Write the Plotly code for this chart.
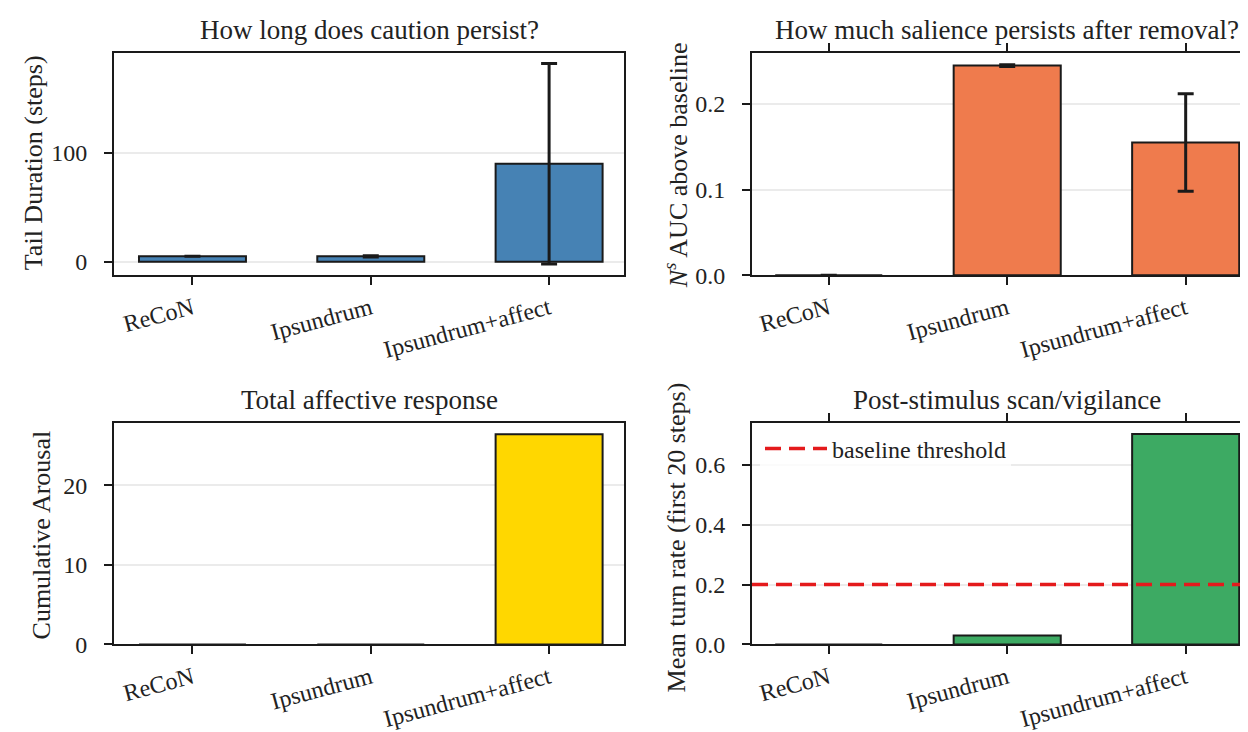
import plotly.graph_objects as go

# ---------------- data ----------------
models = ["ReCoN", "Ipsundrum", "Ipsundrum+affect"]

tail_mean = [5.0, 5.0, 90.0]
tail_err = [0.0, 0.6, 92.0]

auc_mean = [0.0, 0.245, 0.155]
auc_err = [0.0, 0.001, 0.057]

arousal = [0.0, 0.0, 26.4]

turn_rate = [0.0, 0.03, 0.703]
baseline_threshold = 0.2

titles = [
    "How long does caution persist?",
    "How much salience persists after removal?",
    "Total affective response",
    "Post-stimulus scan/vigilance",
]
ylabels = [
    "Tail Duration (steps)",
    "<i>N</i><sup><i>s</i></sup> AUC above baseline",
    "Cumulative Arousal",
    "Mean turn rate (first 20 steps)",
]

colors = ["#4682B4", "#EF7B4D", "#FFD700", "#3DAA63"]

# ---------------- layout geometry ----------------
W, H = 1248, 732
FONT = "Liberation Serif"
EDGE = "#1a1a1a"
TXT = "#222222"

def px_x(p):
    return p / W

def px_y(p):
    return 1 - p / H

x_dom_left = [px_x(106), px_x(616)]
x_dom_right = [px_x(744), 1.0]
y_dom_top = [px_y(272), px_y(46)]
y_dom_bot = [px_y(648), px_y(423)]

fig = go.Figure()

def add_bar(vals, errs, color, xa, ya):
    kw = {}
    if errs is not None:
        kw["error_y"] = dict(type="data", array=errs, visible=True,
                             color=EDGE, thickness=3, width=8)
    fig.add_trace(go.Bar(
        x=models, y=vals, width=0.6,
        marker=dict(color=color, line=dict(color=EDGE, width=2)),
        xaxis=xa, yaxis=ya, showlegend=False, **kw))

add_bar(tail_mean, tail_err, colors[0], "x", "y")
add_bar(auc_mean, auc_err, colors[1], "x2", "y2")
add_bar(arousal, None, colors[2], "x3", "y3")
add_bar(turn_rate, None, colors[3], "x4", "y4")

# legend entry for threshold line
fig.add_trace(go.Scatter(
    x=[None], y=[None], mode="lines", name="baseline threshold",
    line=dict(color="#E41A1C", width=3.5, dash="16px,8px"),
    xaxis="x4", yaxis="y4", showlegend=True))

fig.add_shape(type="line", xref="x4 domain", yref="y4",
              x0=0, x1=1, y0=baseline_threshold, y1=baseline_threshold,
              line=dict(color="#E41A1C", width=3.5, dash="16px,8px"))

tickfont = dict(family=FONT, size=24, color=TXT)

def xaxis_cfg(dom, anchor, rng, mirror):
    return dict(domain=dom, anchor=anchor, range=rng, type="category",
                showline=True, linecolor=EDGE, linewidth=2, mirror=mirror,
                ticks="outside", ticklen=8, tickwidth=2, tickcolor=EDGE,
                tickangle=-15, tickfont=tickfont, showgrid=False, zeroline=False)

def yaxis_cfg(dom, anchor, rng, dtick, tickformat, mirror):
    return dict(domain=dom, anchor=anchor, range=rng, dtick=dtick,
                tickformat=tickformat,
                showline=True, linecolor=EDGE, linewidth=2, mirror=mirror,
                ticks="outside", ticklen=8, tickwidth=2, tickcolor=EDGE,
                ticklabelstandoff=12,
                tickfont=tickfont, showgrid=True, gridcolor="#ebebeb",
                gridwidth=1.5, zeroline=False)

fig.update_layout(
    width=W, height=H,
    margin=dict(l=0, r=0, t=0, b=0),
    paper_bgcolor="white", plot_bgcolor="white",
    font=dict(family=FONT, size=24, color=TXT),
    xaxis=xaxis_cfg(x_dom_left, "y", [-0.44, 2.42], True),
    yaxis=yaxis_cfg(y_dom_top, "x", [-12.3, 191.5], 100, "d", True),
    xaxis2=xaxis_cfg(x_dom_right, "y2", [-0.43, 2.394], "allticks"),
    yaxis2=yaxis_cfg(y_dom_top, "x2", [0, 0.2595], 0.1, ".1f", False),
    xaxis3=xaxis_cfg(x_dom_left, "y3", [-0.44, 2.42], True),
    yaxis3=yaxis_cfg(y_dom_bot, "x3", [0, 27.75], 10, "d", True),
    xaxis4=xaxis_cfg(x_dom_right, "y4", [-0.43, 2.394], "allticks"),
    yaxis4=yaxis_cfg(y_dom_bot, "x4", [0, 0.738], 0.2, ".1f", False),
    legend=dict(x=px_x(752), y=px_y(426), xanchor="left", yanchor="top",
                bgcolor="rgba(255,255,255,0.8)", borderwidth=0,
                itemwidth=62,
                font=dict(family=FONT, size=24, color=TXT)),
    showlegend=True,
)

# titles
title_pos = [(361, 22), (999, 22), (361, 399), (999, 399)]
for t, (cx, cy) in zip(titles, title_pos):
    fig.add_annotation(text=t, x=px_x(cx), y=px_y(cy), xref="paper", yref="paper",
                       showarrow=False, xanchor="center", yanchor="middle",
                       font=dict(family=FONT, size=27, color=TXT))

# y labels
ylab_pos = [(25, 158), (668, 160), (33, 537), (668, 539)]
for t, (cx, cy) in zip(ylabels, ylab_pos):
    fig.add_annotation(text=t, x=px_x(cx), y=px_y(cy), xref="paper", yref="paper",
                       showarrow=False, xanchor="center", yanchor="middle",
                       textangle=-90,
                       font=dict(family=FONT, size=26, color=TXT))

fig.write_html("out.html")
